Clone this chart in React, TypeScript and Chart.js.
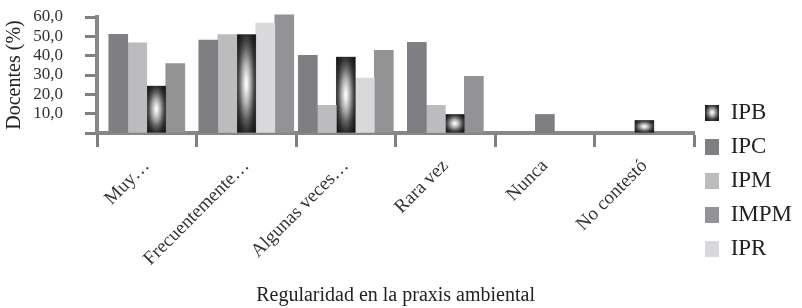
import React, { useEffect, useRef } from 'react';
import { Chart, registerables } from 'chart.js';

Chart.register(...registerables);

// ---- data ----
const categories = ['Muy…', 'Frecuentemente…', 'Algunas veces…', 'Rara vez', 'Nunca', 'No contestó'];
const IPB = [24.3, 50.9, 39.3, 9.6, null, 6.5];
const IPC = [51.1, 48.0, 40.2, 46.9, 9.6, null];
const IPM = [46.6, 50.9, 14.3, 14.3, null, null];
const IMPM = [35.9, 61.1, 42.8, 29.3, null, null];
const IPR = [null, 56.9, 28.4, null, null, null];
const yTicks = [0, 10, 20, 30, 40, 50, 60];
const xTitle = 'Regularidad en la praxis ambiental';
const yTitle = 'Docentes (%)';

const legendOrder = ['IPB', 'IPC', 'IPM', 'IMPM', 'IPR'];
const drawOrder = ['IPC', 'IPM', 'IPB', 'IPR', 'IMPM'];
const seriesByName: Record<string, (number | null)[]> = { IPB, IPC, IPM, IMPM, IPR };

// ---- styles ----
const colors: Record<string, string> = {
  IPB: '#6a6a6a',
  IPC: '#7f7f83',
  IPM: '#bcbcbf',
  IMPM: '#939396',
  IPR: '#d9d9db',
};
const GRADIENT_SERIES = 'IPB';
const FONT = "'Liberation Serif', 'Times New Roman', Times, serif";

function paintGlow(ctx: CanvasRenderingContext2D, cx: number, cy: number, rx: number, ry: number) {
  if (rx <= 0 || ry <= 0) return;
  ctx.save();
  ctx.translate(cx, cy);
  ctx.scale(rx, ry);
  const g = ctx.createRadialGradient(0, 0, 0, 0, 0, 1.42);
  g.addColorStop(0, '#ffffff');
  g.addColorStop(0.085, '#f0f0f0');
  g.addColorStop(0.32, '#a8a8a8');
  g.addColorStop(0.53, '#5a5a5a');
  g.addColorStop(0.7, '#2e2e2e');
  g.addColorStop(1, '#0a0a0a');
  ctx.fillStyle = g;
  ctx.fillRect(-1, -1, 2, 2);
  ctx.restore();
}

const glowPlugin = {
  id: 'glowBars',
  afterDatasetDraw(chart: any, args: any) {
    const ds = chart.data.datasets[args.index];
    if (ds.label !== GRADIENT_SERIES) return;
    const ctx = chart.ctx as CanvasRenderingContext2D;
    args.meta.data.forEach((el: any, i: number) => {
      if (ds.data[i] == null) return;
      const { x, y, base, width } = el.getProps(['x', 'y', 'base', 'width'], true);
      const top = Math.min(y, base);
      const h = Math.abs(base - y);
      paintGlow(ctx, x, top + h / 2, width / 2, h / 2);
    });
  },
};

export default function App() {
  const ref = useRef<HTMLCanvasElement>(null);

  useEffect(() => {
    const canvas = ref.current;
    if (!canvas) return;

    const swatches: Record<string, HTMLCanvasElement> = {};
    legendOrder.forEach((name) => {
      const c = document.createElement('canvas');
      c.width = 14;
      c.height = 16;
      const g = c.getContext('2d')!;
      if (name === GRADIENT_SERIES) {
        paintGlow(g, 7, 8, 7, 8);
      } else {
        g.fillStyle = colors[name];
        g.fillRect(0, 0, 14, 16);
      }
      swatches[name] = c;
    });

    const chart = new Chart(canvas, {
      type: 'bar',
      data: {
        labels: categories,
        datasets: drawOrder.map((name) => ({
          label: name,
          data: seriesByName[name],
          backgroundColor: colors[name],
          borderWidth: 0,
          barThickness: 19,
          skipNull: true,
          clip: false,
        })) as any,
      },
      options: {
        responsive: false,
        animation: false,
        devicePixelRatio: 1,
        layout: { padding: { top: 17, right: 0, bottom: 0, left: 0 } },
        font: { family: FONT },
        plugins: {
          tooltip: { enabled: false },
          legend: {
            position: 'right',
            align: 'start',
            title: { display: true, text: ' ', padding: { top: 61, bottom: 0 }, font: { size: 10, family: FONT } },
            labels: {
              usePointStyle: true,
              boxWidth: 14,
              boxHeight: 16,
              padding: 11,
              color: '#222',
              font: { size: 23, family: FONT },
              generateLabels: (ch: any) => {
                const items = (Chart.defaults.plugins.legend.labels as any).generateLabels(ch);
                items.forEach((it: any) => {
                  it.pointStyle = swatches[it.text];
                  it.lineWidth = 0;
                });
                return items.sort((a: any, b: any) => legendOrder.indexOf(a.text) - legendOrder.indexOf(b.text));
              },
            },
          },
        },
        scales: {
          x: {
            grid: { drawOnChartArea: false, offset: true, tickLength: 14, tickWidth: 3, tickColor: '#7f7f7f' },
            border: { display: true, width: 4, color: '#878787' },
            ticks: {
              autoSkip: false,
              maxRotation: 45,
              minRotation: 45,
              padding: 8,
              color: '#333',
              font: { size: 19, family: FONT },
            },
            title: {
              display: true,
              text: xTitle,
              color: '#222',
              font: { size: 20, family: FONT },
              padding: { top: 0, bottom: 0 },
            },
            afterFit: (s: any) => {
              s.height = 175;
            },
          },
          y: {
            min: yTicks[0],
            max: yTicks[yTicks.length - 1],
            afterBuildTicks: (s: any) => {
              s.ticks = yTicks.map((v) => ({ value: v }));
            },
            ticks: {
              autoSkip: false,
              callback: (v: any) => (Number(v) === 0 ? '' : Number(v).toFixed(1).replace('.', ',')),
              color: '#333',
              padding: 22,
              font: { size: 17, family: FONT },
            },
            grid: { drawOnChartArea: false, tickLength: 12, tickWidth: 3, tickColor: '#7f7f7f' },
            border: { display: true, width: 4, color: '#878787' },
            title: {
              display: true,
              text: yTitle,
              color: '#222',
              font: { size: 20, family: FONT },
              padding: { top: 3, bottom: 0 },
            },
            afterFit: (s: any) => {
              s.width = 97;
              s.paddingTop = 10;
              s.paddingBottom = 10;
            },
          },
        },
      } as any,
      plugins: [glowPlugin],
    });

    return () => chart.destroy();
  }, []);

  return (
    <div style={{ width: 802, height: 308 }}>
      <style>{'body{margin:0}'}</style>
      <canvas ref={ref} width={802} height={308} style={{ display: 'block' }} />
    </div>
  );
}
